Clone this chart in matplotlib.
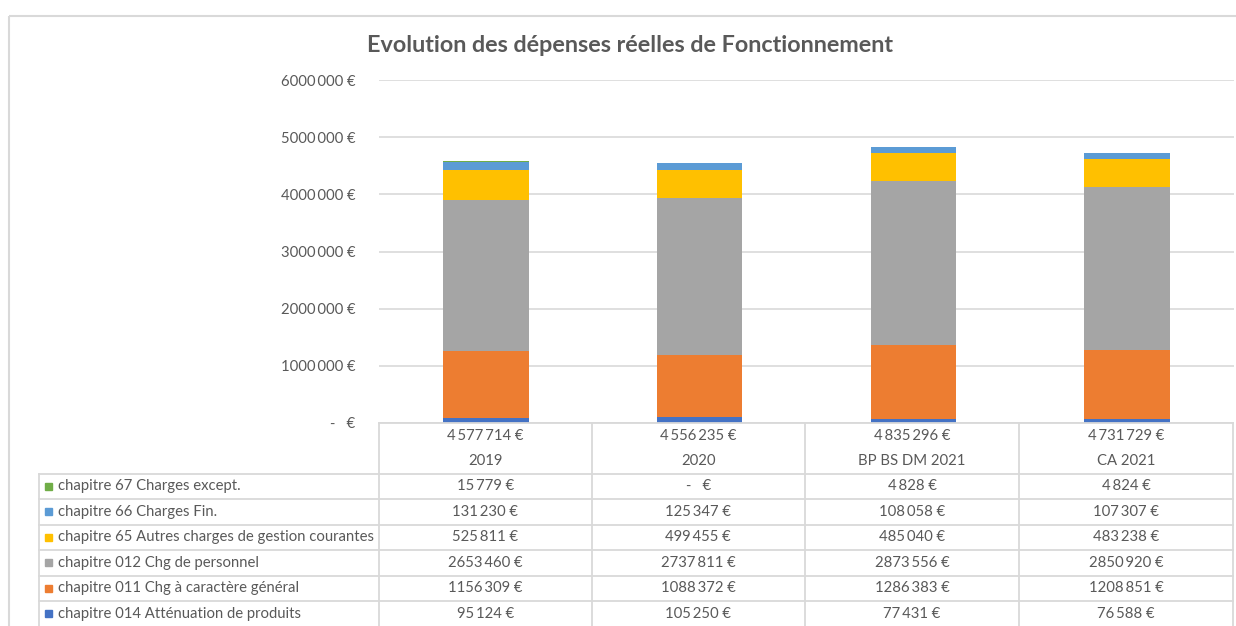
import matplotlib.pyplot as plt
from matplotlib.patches import Rectangle

# Data
categories = ["2019", "2020", "BP BS DM 2021", "CA 2021"]
totals = [4577714, 4556235, 4835296, 4731729]

# series, bottom of the stack first
series_names = [
    "chapitre 014 Atténuation de produits",
    "chapitre 011 Chg à caractère général",
    "chapitre 012 Chg de personnel",
    "chapitre 65 Autres charges de gestion courantes",
    "chapitre 66 Charges Fin.",
    "chapitre 67 Charges except.",
]
ch014 = [95124, 105250, 77431, 76588]
ch011 = [1156309, 1088372, 1286383, 1208851]
ch012 = [2653460, 2737811, 2873556, 2850920]
ch65 = [525811, 499455, 485040, 483238]
ch66 = [131230, 125347, 108058, 107307]
ch67 = [15779, 0, 4828, 4824]
series_values = [ch014, ch011, ch012, ch65, ch66, ch67]
colors = ["#4472C4", "#ED7D31", "#A5A5A5", "#FFC000", "#5B9BD5", "#70AD47"]

yticks = [0, 1000000, 2000000, 3000000, 4000000, 5000000, 6000000]

TXT = "#595959"
GRID = "#D9D9D9"
FONT = "Lato"
FS = 10.7
W, H = 1236, 626


def euro(v, group_millions=False):
    """Excel-like '# ##0 €' label, '-   €' for zero."""
    if v == 0:
        return "-   €"
    s = f"{v:,}".replace(",", "\u2009")
    if v >= 1000000 and not group_millions:
        s = s.replace("\u2009", "", 1)
    return s + " €"


fig = plt.figure(figsize=(W / 100, H / 100), dpi=100)
fig.patch.set_facecolor("white")


def fx(px):
    return px / W


def fy(py):
    return 1 - py / H


# bar area (pixel box)
left, right, top, bottom = 379, 1234, 80, 423
ax = fig.add_axes([fx(left), fy(bottom), fx(right - left), (bottom - top) / H])
xs = range(len(categories))
base = [0] * len(categories)
for name, vals, c in zip(series_names, series_values, colors):
    ax.bar(xs, vals, width=0.4, bottom=base, color=c, edgecolor="none", zorder=3)
    base = [b + v for b, v in zip(base, vals)]
ax.set_xlim(-0.5, len(categories) - 0.5)
ax.set_ylim(0, 6000000)
ax.set_yticks(yticks)
ax.set_yticklabels([euro(t) for t in yticks], fontsize=FS, color=TXT, family=FONT)
ax.set_xticks([])
ax.tick_params(axis="y", length=0, pad=17)
ax.grid(axis="y", color=GRID, lw=1.2, zorder=0)
for s in ax.spines.values():
    s.set_visible(False)

# overlay for title, border and data table, in pixel coordinates
ov = fig.add_axes([0, 0, 1, 1], zorder=-1)
ov.set_xlim(0, W)
ov.set_ylim(H, 0)
ov.axis("off")
ov.add_patch(Rectangle((8.5, 15.5), W + 10, H, fill=False, ec=GRID, lw=1.5))

tab = fig.add_axes([0, 0, 1, 1])
tab.set_xlim(0, W)
tab.set_ylim(H, 0)
tab.axis("off")
tab.patch.set_alpha(0)

tab.text(630, 45, "Evolution des dépenses réelles de Fonctionnement", ha="center",
         va="center", fontsize=16.8, fontweight="bold", color=TXT, family=FONT)

col_x = [379, 591.5, 805, 1019, 1233]
row_y = [473.5, 499, 524.5, 550, 575.5, 601, 626.5]
lw = 1.3
# header block
tab.plot([col_x[0], col_x[-1]], [423, 423], color=GRID, lw=lw)
for x in col_x:
    tab.plot([x, x], [423, 640], color=GRID, lw=lw)
tab.plot([39, 39], [473.5, 640], color=GRID, lw=lw)
for y in row_y:
    tab.plot([39, col_x[-1]], [y, y], color=GRID, lw=lw)

for i, cat in enumerate(categories):
    cx = (col_x[i] + col_x[i + 1]) / 2
    tab.text(cx, 436, euro(totals[i], group_millions=True), ha="center", va="center",
             fontsize=FS, color=TXT, family=FONT)
    tab.text(cx, 461, cat, ha="center", va="center", fontsize=FS, color=TXT, family=FONT)

# rows top-down: last series first
for r, (name, vals, c) in enumerate(zip(series_names[::-1], series_values[::-1], colors[::-1])):
    cy = (row_y[r] + row_y[r + 1]) / 2
    tab.add_patch(Rectangle((45, cy - 3.5), 7, 7, color=c))
    tab.text(58, cy, name, ha="left", va="center", fontsize=FS, color=TXT, family=FONT)
    for i, v in enumerate(vals):
        cx = (col_x[i] + col_x[i + 1]) / 2
        tab.text(cx, cy, euro(v), ha="center", va="center", fontsize=FS, color=TXT, family=FONT)

fig.savefig("out.png", dpi=100)
